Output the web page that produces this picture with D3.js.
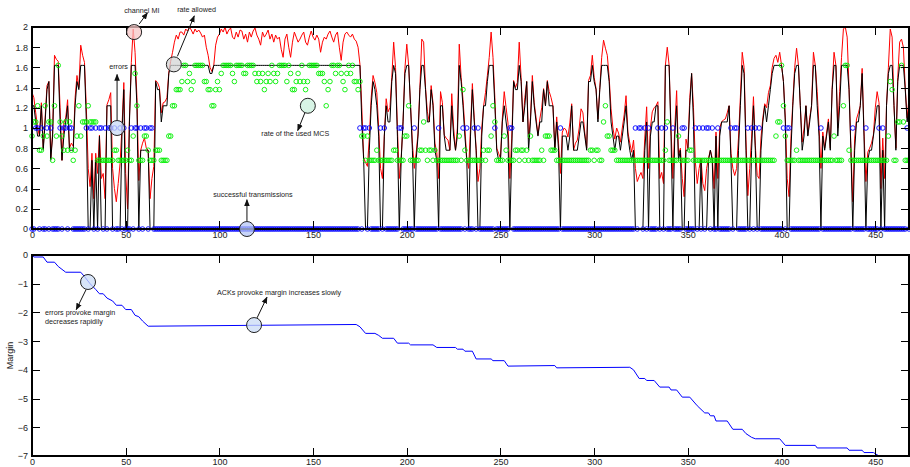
<!DOCTYPE html>
<html>
<head>
<meta charset="utf-8">
<script src="https://cdn.jsdelivr.net/npm/d3@7"></script>
<style>
  body { margin: 0; background: #fff; }
  svg { display: block; font-family: "Liberation Sans", Arial, sans-serif; }
</style>
</head>
<body>
<svg id="chart" width="910" height="467"></svg>
<script>
// rate allowed by the channel (red), one value per transmission index
const rateAllowed = [
  1.35,1.3,1.15,1.0,0.92,1.25,0.8,1.1,1.42,1.46,
  0.7,0.95,1.72,1.68,1.66,1.2,0.68,1.05,1.1,1.28,
  0.8,0.85,0.82,1.3,1.52,1.4,1.82,1.72,1.65,1.2,
  0.6,0.42,0.75,0.3,0.75,0.55,0.93,0.5,0.55,0.3,
  1.23,1.28,1.35,0.6,0.4,0.27,0.45,0.65,1.0,1.45,
  0.55,0.2,1.1,1.65,1.98,1.75,1.3,0.48,0.78,0.85,
  0.9,0.8,0.78,0.3,0.5,0.62,1.47,1.45,1.4,1.15,
  1.25,1.26,1.3,1.55,1.66,1.75,1.85,1.92,1.88,1.95,
  1.95,1.92,1.98,1.96,2.0,1.97,1.93,1.98,1.95,1.97,
  1.94,1.9,1.92,1.8,1.72,1.6,1.56,1.62,1.82,1.9,
  1.93,1.98,1.95,2.0,1.93,1.97,1.99,1.9,1.88,1.95,
  1.9,1.97,1.96,1.88,1.93,1.85,1.95,1.9,1.96,1.99,
  1.92,1.88,1.82,1.95,1.9,1.93,1.97,1.88,1.93,1.85,
  1.92,1.88,1.9,1.78,1.7,1.88,1.93,1.8,1.7,1.85,
  1.95,1.9,1.85,1.88,1.92,1.95,1.85,1.82,1.9,1.96,
  1.9,1.87,1.92,1.88,1.75,1.85,1.9,1.88,1.93,1.96,
  1.9,1.85,1.92,1.95,1.8,1.67,1.85,1.93,1.95,1.92,
  1.9,1.93,1.88,1.86,1.8,1.63,1.2,0.7,0.66,0.62,
  0.9,1.3,1.52,1.45,1.35,1.0,0.6,0.5,0.92,1.29,
  1.16,1.2,1.5,1.85,1.6,1.0,0.5,0.7,1.06,1.59,
  1.83,1.62,1.22,0.85,0.6,0.75,0.95,1.4,1.88,1.85,
  1.4,1.16,1.06,1.42,1.25,0.85,0.76,0.5,1.36,1.25,
  0.93,0.9,0.88,0.78,1.34,1.0,0.78,1.0,1.83,1.5,
  1.28,1.0,0.7,0.6,1.0,1.44,1.1,0.8,0.47,0.6,
  1.0,1.22,1.35,1.52,1.7,1.95,1.7,1.3,0.8,0.75,
  0.7,1.1,1.36,1.2,1.05,0.5,0.9,1.47,1.4,1.45,
  1.85,1.5,1.06,1.3,1.46,0.89,1.1,1.52,1.25,1.1,
  0.93,1.09,1.2,1.39,1.22,1.47,1.36,1.3,1.22,0.8,
  1.11,0.85,0.55,0.96,1.0,0.98,0.91,1.05,1.24,0.78,
  0.85,0.88,1.0,1.19,1.15,0.95,0.8,1.47,1.52,1.72,
  1.5,1.39,1.09,1.4,1.7,1.87,1.79,1.72,1.5,1.19,
  1.0,0.89,1.0,0.95,0.86,1.0,1.13,1.32,0.96,0.85,
  0.76,0.88,0.6,0.47,0.52,0.56,0.5,0.9,1.21,0.6,
  1.0,1.16,1.2,1.22,1.26,0.5,0.56,0.45,1.62,1.8,
  1.62,1.0,0.5,1.0,1.37,0.73,0.8,0.5,0.32,0.89,
  0.8,1.3,1.54,1.2,0.66,0.45,0.6,0.7,0.45,0.38,
  0.6,0.7,0.78,0.7,0.4,0.96,0.5,1.0,1.06,1.08,
  1.09,1.15,1.22,0.75,0.6,0.53,0.6,0.9,1.3,1.75,
  1.6,0.89,0.33,0.6,0.9,1.31,0.83,0.53,0.5,0.9,
  1.1,1.24,1.2,1.35,1.42,1.6,1.69,1.72,1.65,1.75,
  1.62,1.46,1.1,0.5,0.32,0.9,1.26,1.6,1.79,1.62,
  1.22,0.86,1.0,1.22,0.93,1.1,1.22,1.75,1.62,1.36,
  1.0,0.6,0.96,0.8,0.95,1.09,0.8,1.4,1.75,1.62,
  1.0,1.36,1.7,1.98,2.0,1.9,1.4,0.8,0.27,0.9,
  1.09,1.15,1.22,1.59,0.96,0.47,0.76,0.8,0.85,0.93,
  1.2,1.36,1.25,0.4,0.9,0.5,1.22,1.6,1.98,1.9,
  1.22,0.8,1.5,1.85,1.88,1.8,1.4,1.1,1.3
];

// rate of the MCS actually used (green circles)
const usedMcs = [
  0.92,1.06,1.06,1.22,0.78,0.78,0.92,1.22,0.92,1.06,
  1.06,0.68,1.22,0.92,1.62,1.06,0.92,0.78,1.06,0.78,
  1.06,0.78,0.68,0.78,0.92,1.22,0.92,1.06,1.06,1.06,
  1.22,1.06,1.06,1.06,1.06,0.68,0.68,0.68,0.68,0.68,
  0.68,0.68,0.68,0.68,0.78,0.78,0.68,0.68,0.68,0.68,
  0.68,0.78,0.68,0.68,0.92,1.54,1.22,0.68,0.68,0.68,
  0.92,0.92,0.78,0.68,0.68,0.68,0.78,0.78,0.78,0.68,
  0.68,0.68,0.68,0.92,0.92,1.22,1.22,1.38,1.38,1.38,
  1.46,1.62,1.62,1.46,1.54,1.38,1.46,1.62,1.62,1.62,
  1.62,1.62,1.46,1.46,1.38,1.38,1.22,1.22,1.38,1.46,
  1.38,1.54,1.62,1.62,1.62,1.62,1.62,1.54,1.46,1.62,
  1.62,1.62,1.62,1.54,1.54,1.62,1.62,1.62,1.62,1.54,
  1.46,1.54,1.46,1.54,1.38,1.46,1.54,1.46,1.62,1.54,
  1.46,1.54,1.62,1.62,1.62,1.62,1.46,1.62,1.54,1.38,
  1.38,1.46,1.54,1.46,1.62,1.46,1.38,1.46,1.62,1.62,
  1.62,1.62,1.62,1.54,1.54,1.54,1.46,1.22,1.38,1.46,
  1.62,1.62,1.54,1.62,1.62,1.54,1.46,1.38,1.54,1.62,
  1.54,1.62,1.46,1.46,1.38,1.46,0.92,0.92,0.68,0.92,
  0.68,0.68,0.68,0.68,0.78,0.68,0.68,0.68,0.68,0.68,
  0.68,0.68,0.68,0.78,0.78,0.68,0.68,0.68,0.68,0.92,
  0.92,1.22,0.68,0.68,0.68,0.68,0.68,0.78,0.78,1.06,
  0.78,0.68,0.78,0.78,0.68,0.78,0.68,0.68,0.68,0.68,
  0.68,0.68,0.68,0.68,0.68,0.68,0.68,0.68,0.92,0.68,
  1.38,0.78,0.68,0.68,0.68,0.68,0.68,0.68,0.68,0.68,
  0.68,0.78,0.68,0.78,0.78,0.92,1.22,1.06,0.68,0.68,
  0.68,0.68,0.92,0.78,0.68,0.68,0.68,0.68,0.78,0.78,
  0.68,0.78,0.78,0.68,0.78,0.68,0.92,0.68,0.68,0.68,
  0.68,0.68,0.78,0.68,0.92,0.92,0.92,0.78,0.78,0.78,
  0.68,0.68,0.68,0.68,0.68,0.68,0.68,0.68,0.68,0.68,
  0.68,0.68,0.68,0.68,0.68,0.68,0.68,0.68,0.78,0.78,
  0.68,0.78,0.78,0.68,0.68,1.06,1.22,0.92,0.92,0.78,
  0.78,0.78,0.68,0.68,0.68,0.68,0.68,0.68,0.68,0.68,
  0.68,0.68,0.68,0.68,0.68,0.68,0.68,0.68,0.68,0.68,
  0.68,0.68,0.68,0.68,0.68,0.68,0.68,0.68,0.78,1.06,
  0.68,0.68,0.68,0.68,0.68,0.92,0.68,0.68,0.68,0.68,
  0.68,0.78,0.78,0.68,0.68,0.68,0.68,0.68,0.68,0.68,
  0.68,0.68,0.68,0.68,0.68,0.68,0.68,0.68,0.68,0.68,
  0.68,0.68,0.68,0.68,0.68,0.68,0.68,0.68,0.68,0.68,
  0.68,0.68,0.68,0.68,0.68,0.68,0.68,0.68,0.68,0.68,
  0.68,0.68,0.68,0.68,0.68,0.68,0.68,0.92,1.06,1.06,
  1.62,1.22,0.92,0.68,0.68,0.68,0.68,0.68,0.78,0.68,
  0.68,0.68,0.68,0.68,0.68,0.68,0.68,0.68,0.68,0.68,
  0.68,0.68,0.68,0.68,0.68,0.68,0.68,0.68,0.92,0.68,
  0.68,0.68,0.68,1.22,1.62,1.62,0.78,0.68,0.68,0.68,
  0.68,0.68,0.68,0.68,0.68,0.68,0.68,0.68,0.68,0.68,
  0.68,0.68,0.68,0.68,0.68,0.68,0.68,0.92,1.46,1.38,
  0.68,0.68,1.06,1.06,1.62,1.06,0.68,0.68,0.68
];

// indices where the transmission failed (blue circles at 1, the rest sit at 0)
const errorIdx = [
  2,3,5,8,10,15,17,18,20,21,
  29,31,32,34,36,37,39,41,42,44,47,49,
  53,55,56,58,60,61,63,64,
  175,177,178,180,186,188,196,197,204,217,
  230,232,236,238,247,255,256,282,
  322,324,325,327,329,334,336,338,342,347,348,
  354,356,358,360,361,363,366,373,375,376,
  382,384,386,388,401,403,404,421,438,445,452,454,467
];

// MCS rates available (black line = best MCS under the allowed rate)
const mcsLevels = [0.68, 0.78, 0.92, 1.06, 1.22, 1.38, 1.46, 1.54, 1.62];

// margin (bottom panel), read at its corners
const marginIdx = [0,1,6,8,12,14,16,18,26,28,31,34,36,38,40,43,45,48,50,53,55,57,59,62,
  173,175,178,183,185,187,193,195,201,202,214,216,226,227,230,231,235,237,245,246,252,254,
  279,280,319,321,324,327,328,332,335,340,341,344,347,351,355,359,361,362,364,365,371,
  374,379,381,384,386,399,402,418,419,435,436,443,444,449,452];
const marginVal = [0,-0.07,-0.07,-0.25,-0.25,-0.4,-0.5,-0.6,-0.6,-0.75,-1.0,-1.2,-1.35,-1.35,-1.5,-1.6,-1.75,-1.75,-1.9,-1.9,-2.1,-2.15,-2.3,-2.48,
  -2.42,-2.5,-2.73,-2.73,-2.8,-2.9,-2.9,-3.07,-3.07,-3.13,-3.13,-3.22,-3.22,-3.28,-3.28,-3.35,-3.35,-3.62,-3.62,-3.68,-3.68,-3.87,
  -3.85,-3.93,-3.91,-4.0,-4.3,-4.3,-4.37,-4.37,-4.6,-4.6,-4.7,-4.7,-4.95,-4.95,-5.25,-5.5,-5.5,-5.6,-5.6,-5.78,-5.78,
  -6.07,-6.07,-6.22,-6.35,-6.4,-6.4,-6.63,-6.63,-6.72,-6.72,-6.8,-6.8,-6.88,-6.88,-7.0];

const xTicks = [0, 50, 100, 150, 200, 250, 300, 350, 400, 450];
const topTicks = [0, 0.2, 0.4, 0.6, 0.8, 1, 1.2, 1.4, 1.6, 1.8, 2];
const bottomTicks = [-7, -6, -5, -4, -3, -2, -1, 0];

const svg = d3.select('#chart');
const x = d3.scaleLinear().domain([0, 468]).range([32, 909]);
const yTop = d3.scaleLinear().domain([0, 2]).range([229, 27]);
const yBot = d3.scaleLinear().domain([-7, 0]).range([456, 255]);
const toMcs = d3.scaleThreshold().domain(mcsLevels).range([0].concat(mcsLevels));

svg.append('defs').append('marker')
  .attr('id', 'arrow')
  .attr('viewBox', '0 0 10 10')
  .attr('refX', 9).attr('refY', 5)
  .attr('markerWidth', 7).attr('markerHeight', 7)
  .attr('markerUnits', 'userSpaceOnUse')
  .attr('orient', 'auto')
  .append('path').attr('d', 'M0,1 L10,5 L0,9 Z').attr('fill', '#111');

function drawAxes(g, y, yTicks, fmt) {
  const [y0, y1] = y.range();
  const ax = [
    g.append('g').attr('transform', 'translate(0,' + y0 + ')')
      .call(d3.axisBottom(x).tickValues(xTicks).tickSizeInner(-8).tickSizeOuter(0).tickPadding(3)),
    g.append('g').attr('transform', 'translate(0,' + y1 + ')')
      .call(d3.axisTop(x).tickValues(xTicks).tickSizeInner(-8).tickSizeOuter(0).tickFormat('')),
    g.append('g').attr('transform', 'translate(' + x.range()[0] + ',0)')
      .call(d3.axisLeft(y).tickValues(yTicks).tickSizeInner(-8).tickSizeOuter(0).tickPadding(4).tickFormat(fmt)),
    g.append('g').attr('transform', 'translate(' + x.range()[1] + ',0)')
      .call(d3.axisRight(y).tickValues(yTicks).tickSizeInner(-8).tickSizeOuter(0).tickFormat('')),
  ];
  ax.forEach(a => {
    a.select('.domain').remove();
    a.attr('font-size', 9).attr('font-family', '"Liberation Sans", Arial, sans-serif');
    a.selectAll('line').attr('stroke', '#000').attr('shape-rendering', 'crispEdges');
    a.selectAll('text').attr('fill', '#222');
  });
  g.append('rect')
    .attr('x', x.range()[0]).attr('y', y1)
    .attr('width', x.range()[1] - x.range()[0]).attr('height', y0 - y1)
    .attr('fill', 'none').attr('stroke', '#000').attr('stroke-width', 1.2)
    .attr('shape-rendering', 'crispEdges');
}

function annotate(g, y, a) {
  g.append('line')
    .attr('x1', x(a.from[0])).attr('y1', y(a.from[1]))
    .attr('x2', x(a.to[0])).attr('y2', y(a.to[1]))
    .attr('stroke', '#111').attr('stroke-width', 1)
    .attr('marker-end', 'url(#arrow)');
  g.append('circle')
    .attr('cx', x(a.at[0])).attr('cy', y(a.at[1])).attr('r', 7.5)
    .attr('fill', a.fill).attr('fill-opacity', 0.75)
    .attr('stroke', '#222').attr('stroke-width', 1);
  a.text.forEach((t, k) => {
    g.append('text')
      .attr('x', x(a.label[0])).attr('y', y(a.label[1]) + k * 9)
      .attr('text-anchor', a.anchor || 'middle')
      .attr('font-size', 7.2).attr('fill', '#222')
      .text(t);
  });
}

// ---- top panel ----
const topG = svg.append('g');
const idx = d3.range(rateAllowed.length);
const errSet = new Set(errorIdx);

topG.append('path')
  .datum(idx)
  .attr('fill', 'none').attr('stroke', '#ff0000').attr('stroke-width', 1)
  .attr('d', d3.line().x(i => x(i)).y(i => yTop(rateAllowed[i])));

topG.append('path')
  .datum(idx)
  .attr('fill', 'none').attr('stroke', '#000').attr('stroke-width', 1)
  .attr('d', d3.line().x(i => x(i)).y(i => yTop(toMcs(rateAllowed[i]))));

topG.selectAll('.used').data(idx).enter().append('circle')
  .attr('class', 'used')
  .attr('cx', i => x(i)).attr('cy', i => yTop(usedMcs[i])).attr('r', 2.3)
  .attr('fill', 'none').attr('stroke', '#00ee00').attr('stroke-width', 0.9);

topG.selectAll('.tx').data(idx).enter().append('circle')
  .attr('class', 'tx')
  .attr('cx', i => x(i)).attr('cy', i => yTop(errSet.has(i) ? 1 : 0)).attr('r', 2.3)
  .attr('fill', 'none').attr('stroke', '#0000ff').attr('stroke-width', 0.9);

drawAxes(topG, yTop, topTicks, d => String(Math.round(d * 10) / 10));

[
  { at: [54.5, 1.95], from: [57.2, 2.03], to: [61.6, 2.14], label: [58.6, 2.14], text: ['channel MI'], fill: '#f5c6c6' },
  { at: [75.7, 1.63], from: [77.6, 1.71], to: [86.6, 2.11], label: [87.8, 2.15], text: ['rate allowed'], fill: '#d4d4d4' },
  { at: [45.4, 1.0], from: [45.4, 1.075], to: [45.4, 1.53], label: [46.2, 1.585], text: ['errors'], fill: '#c9dbf5' },
  { at: [147.2, 1.22], from: [145.6, 1.15], to: [141.8, 0.975], label: [140.5, 0.92], text: ['rate of the used MCS'], fill: '#c9f0dc' },
  { at: [114.7, 0.0], from: [114.7, 0.075], to: [114.7, 0.29], label: [117.9, 0.317], text: ['successful transmissions'], fill: '#b4c6f7' },
].forEach(a => annotate(topG, yTop, a));

// ---- bottom panel ----
const botG = svg.append('g');
botG.append('path')
  .datum(d3.range(marginIdx.length))
  .attr('fill', 'none').attr('stroke', '#0000ff').attr('stroke-width', 1)
  .attr('d', d3.line().x(k => x(marginIdx[k])).y(k => yBot(marginVal[k])));

drawAxes(botG, yBot, bottomTicks, d3.format('d'));

botG.append('text')
  .attr('transform', 'translate(13,' + yBot(-3.5) + ') rotate(-90)')
  .attr('text-anchor', 'middle').attr('font-size', 9).attr('fill', '#222')
  .text('Margin');

[
  { at: [29.9, -0.94], from: [28.9, -1.2], to: [23.6, -1.9], label: [6.9, -2.09], anchor: 'start',
    text: ['errors provoke margin', 'decreases rapidily'], fill: '#c9dbf5' },
  { at: [118.5, -2.44], from: [120.1, -2.19], to: [125.4, -1.47], label: [98.7, -1.39], anchor: 'start',
    text: ['ACKs provoke margin increases slowly'], fill: '#c9dbf5' },
].forEach(a => annotate(botG, yBot, a));
</script>
</body>
</html>
